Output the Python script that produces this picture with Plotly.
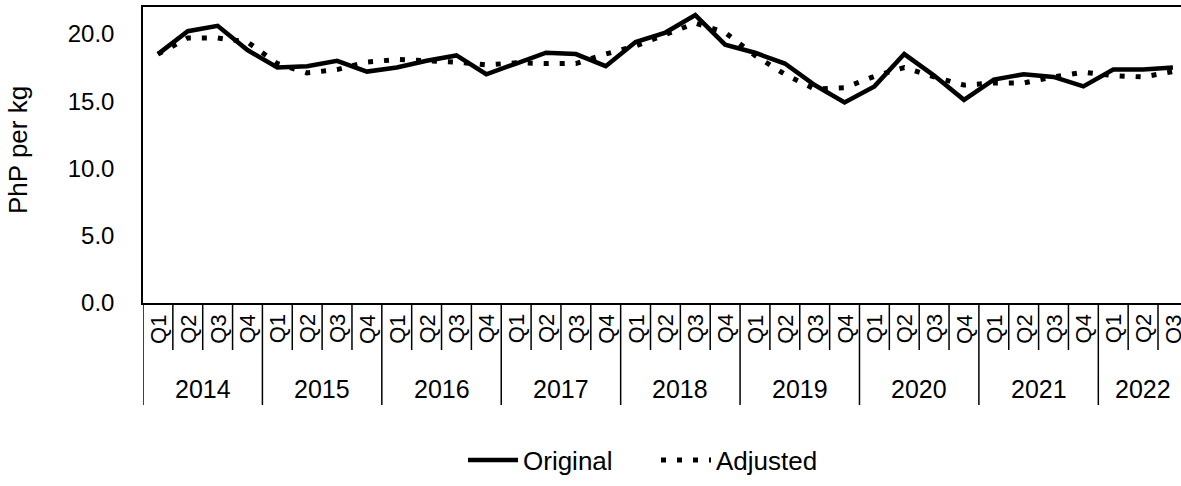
import plotly.graph_objects as go

years = ["2014", "2015", "2016", "2017", "2018", "2019", "2020", "2021", "2022"]
quarters = ["Q1", "Q2", "Q3", "Q4"]
n_quarters_2022 = 3

original = [18.5, 20.2, 20.6, 18.8, 17.5, 17.6, 18.0, 17.2, 17.5, 18.0,
            18.4, 17.0, 17.8, 18.6, 18.5, 17.6, 19.4, 20.1, 21.4, 19.2,
            18.6, 17.8, 16.2, 14.9, 16.1, 18.5, 16.9, 15.1, 16.6, 17.0,
            16.8, 16.1, 17.35, 17.35, 17.5]
adjusted = [18.5, 19.7, 19.7, 19.4, 17.8, 17.1, 17.35, 17.9, 18.1, 18.0,
            17.9, 17.7, 17.85, 17.8, 17.8, 18.5, 19.1, 19.95, 20.8, 20.1,
            18.4, 17.0, 15.9, 16.0, 16.85, 17.5, 16.8, 16.2, 16.35, 16.35,
            16.8, 17.15, 16.9, 16.8, 17.2]

y_ticks = [0, 5, 10, 15, 20]

# build category labels
cats, q_labels, year_of = [], [], []
for y in years:
    nq = n_quarters_2022 if y == "2022" else 4
    for q in quarters[:nq]:
        cats.append(f"{q} {y}")
        q_labels.append(q)
        year_of.append(y)

FONT = "Liberation Sans, Arial, sans-serif"

fig = go.Figure()
fig.add_trace(go.Scatter(x=cats, y=original, mode="lines", name="Original",
                         line=dict(color="black", width=4.5)))
fig.add_trace(go.Scatter(x=cats, y=adjusted, mode="lines", name="Adjusted",
                         line=dict(color="black", width=5, dash="5px,11px")))

# plot geometry
L, T, B_px, W, H = 143, 7, 303, 1181, 486
plot_h = B_px - T

def py(pix):
    return (B_px - pix) / plot_h

annotations = []
shapes = []
for i, (q, c) in enumerate(zip(q_labels, cats)):
    annotations.append(dict(x=c, y=py(329), xref="x", yref="paper", text=q,
                            textangle=-90, showarrow=False,
                            xanchor="center", yanchor="middle",
                            font=dict(size=22, color="black", family=FONT)))
    if q == "Q1":
        shapes.append(dict(type="line", xref="x", yref="paper", x0=i - 0.5, x1=i - 0.5,
                           y0=0, y1=py(405), line=dict(color="black", width=1.5)))
    else:
        shapes.append(dict(type="line", xref="x", yref="paper", x0=i - 0.5, x1=i - 0.5,
                           y0=0, y1=py(350), line=dict(color="black", width=1.5)))

for y in years:
    idx = [i for i, yy in enumerate(year_of) if yy == y]
    center = (idx[0] + idx[-1]) / 2
    annotations.append(dict(x=center, y=py(389), xref="x", yref="paper", text=y,
                            showarrow=False, xanchor="center", yanchor="middle",
                            font=dict(size=25, color="black", family=FONT)))

annotations.append(dict(x=(18 - L) / (W - L), y=py(150), xref="paper", yref="paper",
                        text="PhP per kg", textangle=-90, showarrow=False,
                        xanchor="center", yanchor="middle",
                        font=dict(size=26, color="black", family=FONT)))

fig.update_layout(
    width=W, height=H,
    margin=dict(l=L, r=0, t=T, b=H - B_px),
    paper_bgcolor="white", plot_bgcolor="white",
    font=dict(family=FONT, color="black"),
    showlegend=True,
    legend=dict(orientation="h", x=(656 - L) / (W - L), xanchor="center",
                y=py(460), yanchor="middle",
                font=dict(size=26, color="black", family=FONT),
                itemwidth=50, entrywidth=128, bgcolor="rgba(0,0,0,0)"),
    annotations=annotations,
    shapes=shapes,
)
fig.update_xaxes(type="category", range=[-0.5, 34.27], showticklabels=False,
                 showgrid=False, zeroline=False, ticks="",
                 showline=True, linecolor="black", linewidth=1.5, mirror=True)
fig.update_yaxes(range=[0, 22], tickvals=y_ticks, tickformat=".1f",
                 showgrid=False, zeroline=False, ticks="",
                 ticklabelstandoff=22,
                 tickfont=dict(size=24, color="black", family=FONT),
                 showline=True, linecolor="black", linewidth=1.5)

fig.write_html("out.html", config={"displayModeBar": False},
               post_script="document.body.style.margin='0';document.body.style.overflow='hidden';")
